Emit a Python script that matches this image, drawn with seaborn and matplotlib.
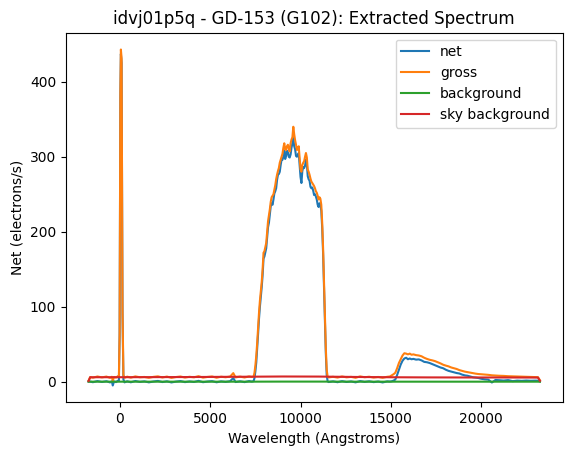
import matplotlib
matplotlib.use("Agg")
import matplotlib.pyplot as plt
import seaborn as sns

# ---------------------------
# Spectrum values
# ---------------------------

wave = [
    -1740, -1650, -1500, -1250, -1000, -750, -550, -450, -400, -330, -220, -120,
    -60, -20, 20, 50, 90, 140, 190, 250,
    400, 600, 850, 1100, 1350, 1600, 1850, 2100, 2350, 2600, 2850, 3100, 3350,
    3600, 3850, 4100, 4350, 4600, 4850, 5100, 5350, 5600, 5850, 6100, 6275,
    6400, 6650, 6900, 7150, 7300,
    7400, 7450, 7500, 7550, 7600, 7650, 7700, 7750, 7800, 7850, 7900, 7950,
    8000, 8100, 8200, 8250, 8300, 8350, 8400, 8450, 8500, 8550, 8600, 8650,
    8700, 8750, 8800, 8850, 8900, 8950, 9000, 9050, 9100, 9150, 9200, 9250,
    9300, 9350, 9400, 9450, 9500, 9550, 9600, 9650, 9700, 9750, 9800, 9850,
    9900, 9950, 10000, 10050, 10100, 10150, 10200, 10250, 10300, 10350, 10400,
    10450, 10500, 10550, 10600, 10650, 10700, 10750, 10800, 10850, 10900,
    10950, 11000, 11050, 11100, 11150, 11200, 11250, 11300, 11350, 11400,
    11450, 11500, 11550,
    11800, 12050, 12300, 12550, 12800, 13050, 13300, 13550, 13800, 14050,
    14300, 14550, 14800, 14950, 15050, 15150, 15250, 15350, 15450, 15550,
    15650, 15750, 15850, 15950, 16050, 16150, 16250, 16400, 16550, 16700,
    16850, 17000, 17150, 17300, 17450, 17600, 17750, 17900, 18050, 18200,
    18350, 18500, 18650, 18800, 18950, 19100, 19250, 19400, 19550, 19700,
    19850, 20000, 20200, 20400, 20600, 20800, 21000, 21250, 21500, 21750,
    22000, 22250, 22500, 22750, 23000, 23150, 23260,
]

net = [
    0.4, 0.2, -0.6, 0.9, -0.3, 0.7, -0.9, 0.5, -5.0, 0.4, -0.5, 1.2,
    1.5, 60, 380, 437, 425, 90, 3, -0.8,
    0.6, -0.7, 1.0, -0.2, 0.5, -0.8, 0.3, 1.1, -0.4, 0.6, -0.9, 0.2, 0.9,
    -0.5, 0.4, -0.3, 1.2, -0.6, 0.3, 0.8, -0.7, 0.5, -0.2, 0.7, 5.0,
    -0.4, 0.6, -0.5, 0.9, 0.2,
    0.8, 5, 14, 26, 44, 64, 84, 100, 113, 126, 142, 164,
    167, 178, 206, 212, 223, 234, 238, 236, 243, 251, 254, 258,
    269, 276, 277, 280, 289, 296, 296, 300, 308, 297, 301, 308,
    306, 300, 299, 303, 312, 318, 325, 314, 310, 301, 300, 302,
    305, 288, 273, 265, 281, 286, 285, 288, 296, 290, 274,
    270, 268, 260, 258, 259, 255, 249, 250, 247, 243,
    236, 233, 238, 236, 228, 205, 171, 125, 78, 38,
    9, 0.8, -0.4,
    0.5, -0.6, 0.8, -0.3, 0.4, -0.8, 0.9, -0.2, 0.6, -0.5,
    0.3, -0.9, 0.5, 0.2, 0.6, 1.5, 3, 9, 16, 23,
    28, 31, 32, 30, 31, 30, 30.5, 29.5, 29.8, 28.5,
    26.5, 26, 25, 23.5, 22, 20.5, 19, 18, 16, 14.5,
    13.5, 12.5, 11.6, 11, 9.5, 8.5, 8, 7, 6, 5.5,
    5, 4, 3.2, 2.8, -1.0, 2.4, 2.0, 1.6, 2.2, 0.8,
    1.5, 1.2, 1.6, 1.3, 1.5, 1.4, 0.5,
]

gross = [
    1.5, 6.3, 5.4, 7.0, 5.8, 6.9, 5.2, 6.6, 1.2, 6.4, 5.6, 7.3,
    7.5, 66, 386, 443, 431, 96, 9, 5.3,
    6.8, 5.5, 7.1, 6.0, 6.4, 5.3, 6.5, 7.2, 5.7, 6.9, 5.2, 6.3, 7.0,
    5.6, 6.6, 5.9, 7.4, 5.5, 6.4, 7.0, 5.4, 6.7, 6.0, 6.9, 11.5,
    5.8, 6.8, 5.7, 7.1, 6.4,
    6.8, 12, 22, 35, 52, 72, 92, 108, 121, 133, 150, 172,
    174, 185, 214, 222, 230, 240, 246, 248, 250, 256, 262, 270,
    276, 281, 285, 292, 296, 300, 304, 312, 318, 310, 309, 314,
    316, 311, 307, 318, 323, 326, 340, 330, 322, 316, 309, 310,
    314, 298, 283, 280, 289, 292, 294, 300, 305, 299, 283,
    280, 276, 271, 267, 265, 263, 261, 258, 254, 252,
    248, 243, 246, 244, 236, 212, 178, 132, 85, 45,
    16, 7.0, 5.8,
    6.6, 5.6, 7.0, 5.9, 6.5, 5.3, 7.1, 6.0, 6.7, 5.6,
    6.4, 5.3, 6.6, 7.0, 8.5, 10, 12, 18, 25, 30,
    35, 38, 37.5, 36.5, 37.5, 36, 36.5, 35.5, 35, 34,
    32, 30.5, 29.3, 28.5, 27.5, 26, 24.5, 22.7, 21.5, 20.5,
    19, 18, 17, 15.5, 14.5, 13.5, 12.8, 12, 11.3, 10.8,
    10.3, 10, 9.6, 9.2, 8.6, 8.3, 8.0, 7.8, 7.4, 7.2,
    6.9, 6.8, 6.7, 6.4, 6.3, 6.1, 2.0,
]

sky_wave = [-1740, -1650, 1000, 4000, 7000, 9000, 11000, 13000, 15000,
            17000, 19000, 21000, 23150, 23260]
sky = [1.0, 6.0, 6.1, 6.3, 6.7, 7.0, 6.9, 6.4, 6.0, 5.8, 5.7, 5.7, 5.6, 1.2]
background = [0.0, 0.1, 0.1, 0.1, 0.1, 0.2, 0.2, 0.1, 0.1, 0.1, 0.1, 0.1, 0.1, 0.0]

assert len(wave) == len(net) == len(gross), (len(wave), len(net), len(gross))

# ---------------------------
# Plot
# ---------------------------

fig = plt.figure(figsize=(5.71, 4.55), dpi=100)
ax = fig.add_axes([66 / 571, 52.7 / 455, 496.5 / 571, 369.6 / 455])

sns.lineplot(x=wave, y=net, ax=ax, color="#1f77b4", label="net",
             estimator=None, sort=False)
sns.lineplot(x=wave, y=gross, ax=ax, color="#ff7f0e", label="gross",
             estimator=None, sort=False)
sns.lineplot(x=sky_wave, y=background, ax=ax, color="#2ca02c", label="background",
             estimator=None, sort=False)
sns.lineplot(x=sky_wave, y=sky, ax=ax, color="#d62728", label="sky background",
             estimator=None, sort=False)

ax.set_title("idvj01p5q - GD-153 (G102): Extracted Spectrum")
ax.set_xlabel("Wavelength (Angstroms)")
ax.set_ylabel("Net (electrons/s)")
ax.legend(loc="upper right")

fig.savefig("out.png", dpi=100)
